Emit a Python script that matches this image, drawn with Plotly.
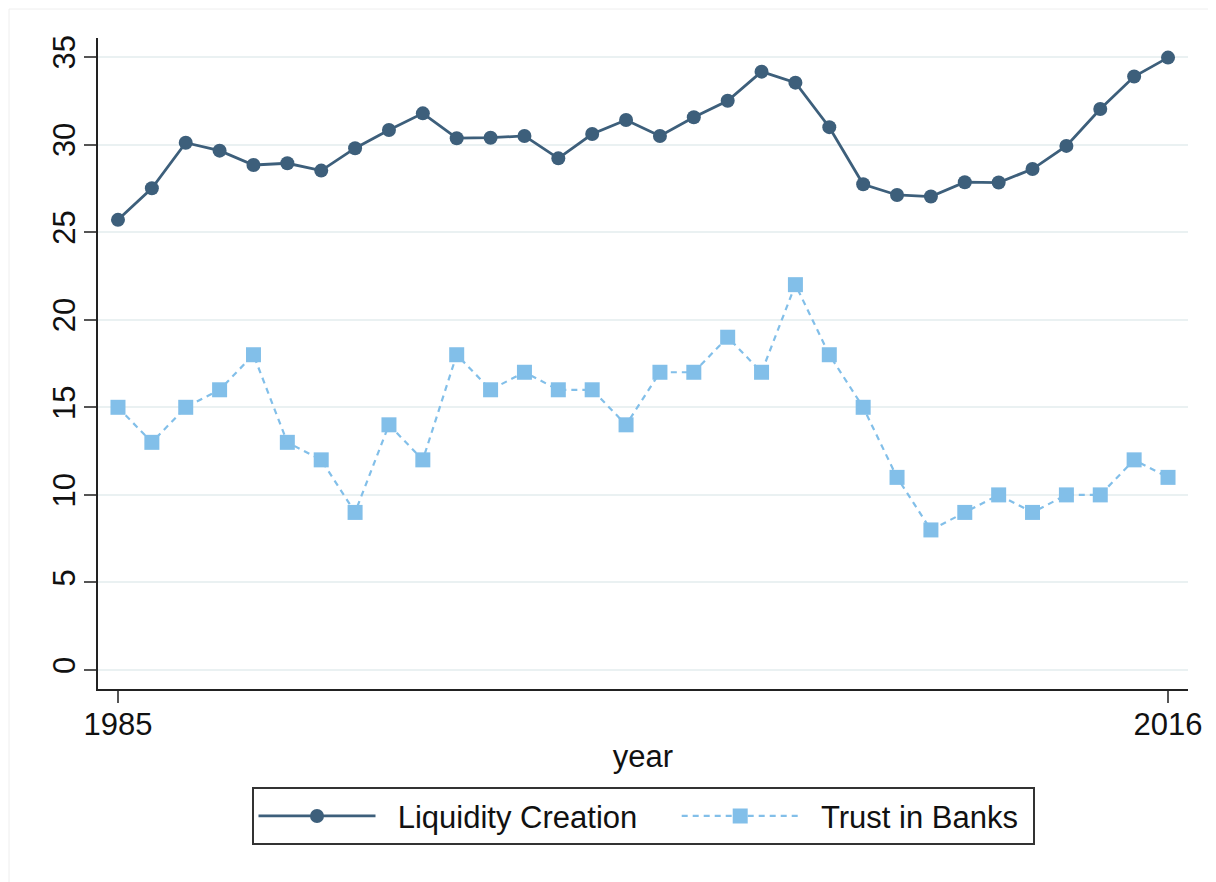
import plotly.graph_objects as go

years = list(range(1985, 2017))
liquidity_creation = [25.7, 27.5, 30.1, 29.65, 28.83, 28.93, 28.51, 29.79, 30.83, 31.78,
                      30.36, 30.39, 30.49, 29.21, 30.6, 31.4, 30.49, 31.56, 32.5, 34.16,
                      33.53, 30.99, 27.73, 27.12, 27.03, 27.85, 27.83, 28.6, 29.92, 32.03,
                      33.88, 34.96]
trust_in_banks = [15, 13, 15, 16, 18, 13, 12, 9, 14, 12, 18, 16, 17, 16, 16, 14,
                  17, 17, 19, 17, 22, 18, 15, 11, 8, 9, 10, 9, 10, 10, 12, 11]
y_ticks = [0, 5, 10, 15, 20, 25, 30, 35]
x_ticks = [1985, 2016]

dark = "#3d5f7b"
light = "#82bfe9"
font_family = "Liberation Sans, Arial, sans-serif"
NB = "\u00a0"

L, R, T, B = 90, 36, 30, 201
W, H = 1216, 882
pw, ph = W - L - R, H - T - B

fig = go.Figure()
fig.add_trace(go.Scatter(
    x=years, y=liquidity_creation, name=NB * 2 + "Liquidity Creation" + NB * 4,
    mode="lines+markers",
    line=dict(color=dark, width=2.8),
    marker=dict(symbol="circle", size=14, color=dark),
))
fig.add_trace(go.Scatter(
    x=years, y=trust_in_banks, name=NB * 2 + "Trust in Banks" + NB,
    mode="lines+markers",
    line=dict(color=light, width=2.2, dash="6px,5px"),
    marker=dict(symbol="square", size=15, color=light),
))

fig.update_layout(
    width=W, height=H,
    margin=dict(l=L, r=R, t=T, b=B),
    paper_bgcolor="white", plot_bgcolor="white",
    font=dict(family=font_family, size=31, color="#111111"),
    showlegend=True,
    legend=dict(
        orientation="h", x=0.5, xanchor="center", y=-0.151, yanchor="top",
        bordercolor="#333333", borderwidth=2,
        font=dict(size=31, color="#111111"),
        itemwidth=117, tracegroupgap=0,
    ),
    xaxis=dict(
        range=[1984.41, 2016.59],
        tickvals=x_ticks, ticktext=[str(v) for v in x_ticks],
        showgrid=False, zeroline=False,
        showline=True, linecolor="#222222", linewidth=2,
        ticks="outside", ticklen=12, tickwidth=2, tickcolor="#555555",
        tickfont=dict(size=31),
        ticklabelstandoff=-5,
        title=dict(text="year", font=dict(size=31), standoff=4),
    ),
    yaxis=dict(
        range=[-1.08, 36.08],
        tickvals=y_ticks,
        showgrid=True, gridcolor="#eaf1f2", gridwidth=2,
        zeroline=False,
        showline=True, linecolor="#222222", linewidth=2,
        ticks="outside", ticklen=12, tickwidth=2, tickcolor="#555555",
        tickangle=-90,
        tickfont=dict(size=31),
        ticklabelstandoff=-3,
    ),
)

fig.add_shape(type="rect", xref="paper", yref="paper",
              x0=-(L - 1) / pw, x1=1 + (R + 20) / pw,
              y0=-(B + 20) / ph, y1=1 + (T - 1) / ph,
              line=dict(color="#eeeeee", width=1), layer="below")

fig.write_html("out.html")
